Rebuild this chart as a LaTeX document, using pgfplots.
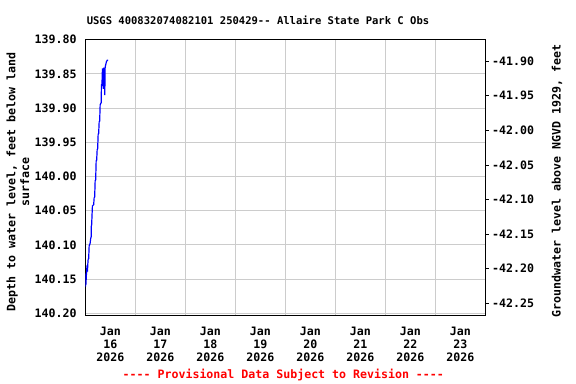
\documentclass[border=0pt]{standalone}
\usepackage{fontspec}
\setmainfont{DejaVu Sans Mono}
\usepackage{pgfplots}
\pgfplotsset{compat=1.18}
\definecolor{gridgray}{RGB}{204,204,204}
\newcommand{\lblfont}{\fontsize{8.7pt}{9.75pt}\selectfont\bfseries}
\begin{document}
\begin{tikzpicture}
\path[use as bounding box] (-64.1pt,-51.2pt) rectangle (367.9pt,236.8pt);
\begin{axis}[
  scale only axis, width=300pt, height=207.3pt,
  at={(0pt,0pt)}, anchor=south west,
  xmin=0, xmax=8,
  ymin=139.7995, ymax=140.2035, y dir=reverse,
  xtick={0.5,1.5,2.5,3.5,4.5,5.5,6.5,7.5},
  xticklabels={Jan\\16\\2026,Jan\\17\\2026,Jan\\18\\2026,Jan\\19\\2026,Jan\\20\\2026,Jan\\21\\2026,Jan\\22\\2026,Jan\\23\\2026},
  minor xtick={1,2,3,4,5,6,7},
  xmajorgrids=false, xminorgrids=true, ymajorgrids=true,
  ytick={139.80,139.85,139.90,139.95,140.00,140.05,140.10,140.15,140.20},
  /pgf/number format/fixed, /pgf/number format/fixed zerofill,
  /pgf/number format/precision=2, /pgf/number format/assume math mode=true,
  yticklabel style={font=\lblfont, xshift=-3.2pt},
  xticklabel style={font=\lblfont, align=center, yshift=-5pt},
  major tick length=0pt, minor tick length=0pt,
  grid style={gridgray, line width=0.75pt},
  minor grid style={gridgray, line width=0.75pt},
  axis line style={black, line width=0.75pt},
  ytick pos=left,
]
\addplot[blue, line width=0.9pt] coordinates {
(0.000,140.155) (0.003,140.161) (0.005,140.142) (0.010,140.158) (0.017,140.145)
(0.024,140.140) (0.030,140.130) (0.040,140.139) (0.047,140.128) (0.054,140.121)
(0.064,140.120) (0.074,140.101) (0.084,140.100) (0.094,140.097) (0.104,140.091)
(0.114,140.088) (0.117,140.073) (0.124,140.070) (0.134,140.052) (0.139,140.043)
(0.154,140.042) (0.164,140.041) (0.174,140.031) (0.184,140.030) (0.194,140.006)
(0.204,140.005) (0.214,139.977) (0.224,139.976) (0.234,139.961) (0.244,139.959)
(0.254,139.938) (0.264,139.937) (0.274,139.920) (0.284,139.919) (0.294,139.895)
(0.307,139.893) (0.314,139.892) (0.320,139.866) (0.330,139.865) (0.340,139.842)
(0.347,139.868) (0.354,139.842) (0.360,139.872) (0.367,139.841) (0.377,139.845)
(0.387,139.881) (0.392,139.842) (0.400,139.838) (0.407,139.836) (0.420,139.832)
(0.437,139.830) (0.454,139.830)
};
\end{axis}
\begin{axis}[
  scale only axis, width=300pt, height=207.3pt,
  at={(0pt,0pt)}, anchor=south west,
  xmin=0, xmax=8,
  ymin=-42.2679, ymax=-41.8683,
  axis x line=none, axis y line*=right,
  ytick={-41.90,-41.95,-42.00,-42.05,-42.10,-42.15,-42.20,-42.25},
  /pgf/number format/fixed, /pgf/number format/fixed zerofill,
  /pgf/number format/precision=2, /pgf/number format/assume math mode=true,
  yticklabel style={font=\lblfont, xshift=-1pt},
  tick align=outside, major tick length=2.5pt,
  tick style={black, line width=0.75pt},
  axis line style={black, line width=0.75pt},
]
\end{axis}
\node[font=\fontsize{7.9pt}{9pt}\selectfont\bfseries] at (129.4pt,221.8pt) {USGS 400832074082101 250429{-}{-} Allaire State Park C Obs};
\node[font=\lblfont, text=red] at (148.4pt,-44.25pt) {{-}{-}{-}{-} Provisional Data Subject to Revision {-}{-}{-}{-}};
\node[font=\fontsize{8.7pt}{10.35pt}\selectfont\bfseries, rotate=90, align=center] at (-50.6pt,100.3pt) {Depth to water level, feet below land\\surface};
\node[font=\lblfont, rotate=90] at (353.6pt,101pt) {Groundwater level above NGVD 1929, feet};
\end{tikzpicture}
\end{document}
